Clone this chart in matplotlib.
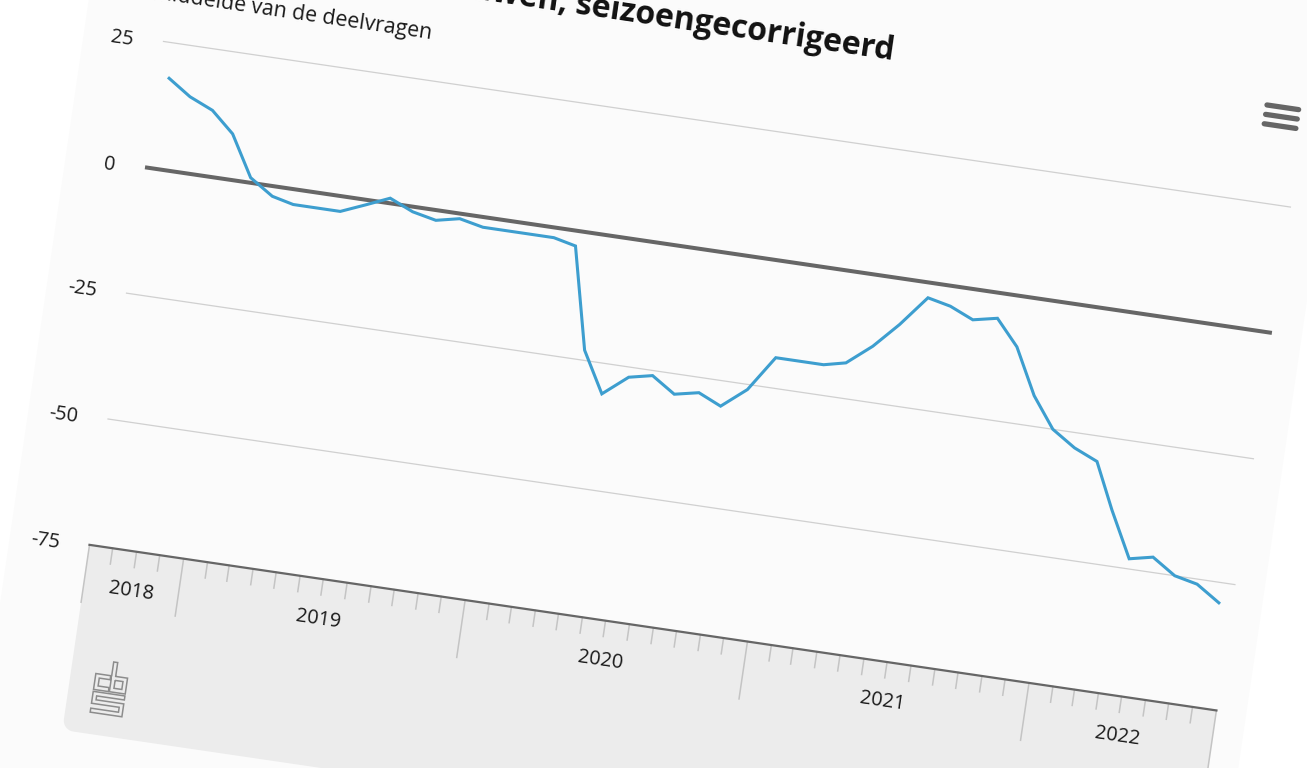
# Consumentenvertrouwen (CBS), screenshot is slightly rotated -> draw everything through a rotated transform
import numpy as np
import pandas as pd
import matplotlib
matplotlib.use("Agg")
import matplotlib.pyplot as plt
import matplotlib.dates as mdates
from matplotlib.transforms import Affine2D, blended_transform_factory
from matplotlib.patches import Polygon

# data: maandcijfers sep 2018 - aug 2022 (midden van de maand)
months = pd.date_range("2018-09-01", "2022-08-01", freq="MS") + pd.Timedelta(days=14)
values = [18, 15, 13, 9, 1, -2, -3, -3, -3, -1, 1, -1,
          -2, -1, -2, -2, -2, -2, -3, -23, -31, -27, -26, -29,
          -28, -30, -26, -19, -19, -19, -18, -14, -9, -3, -4, -6,
          -5, -10, -19, -25, -28, -30, -39, -48, -47, -50, -51, -54]
y_ticks = [25, 0, -25, -50, -75]
years = [2018, 2019, 2020, 2021, 2022]
x_start = pd.Timestamp("2018-09-01")
x_end = pd.Timestamp("2022-09-01")

title = "Consumentenvertrouwen, seizoengecorrigeerd"
subtitle = "Gemiddelde van de deelvragen"

# layout (pixels)
W, H = 1307, 768
ANG = 8.36
PX, PY = 145.0, 768 - 167.3      # left end of the zero line
PLOT_W = 1139.0
UNIT = 127.2 / 25                 # px per index point
AXIS_Y = 75 * UNIT                # distance zero line -> x axis (px, downwards)

fig = plt.figure(figsize=(W / 100, H / 100), dpi=100)
fig.patch.set_facecolor("white")
ax = fig.add_axes([PX / W, (PY - AXIS_Y) / H, PLOT_W / W, 100 * UNIT / H])
ax.set_axis_off()
ax.set_xlim(mdates.date2num(x_start), mdates.date2num(x_end))
ax.set_ylim(-75, 25)

rot = Affine2D().rotate_deg_around(PX, PY, -ANG)
T_data = ax.transData + rot
T_px0 = Affine2D().scale(1, -1).translate(PX, PY)   # x right, y down from pivot
T_px = T_px0 + rot
T_xdata = blended_transform_factory(ax.transData, T_px0) + rot
T_ydata = blended_transform_factory(T_px0, ax.transData) + Affine2D().translate(0, -3) + rot

# card + grey x-axis panel
card = Polygon([(-80, -400), (1169, -400), (1169, 800), (-80, 800)], closed=True,
               transform=T_px, facecolor="#fbfbfb", edgecolor="none", zorder=0,
               clip_on=False)
ax.add_patch(card)
r = 11
arc = [(r - r * np.sin(a), 568.7 - r + r * np.cos(a)) for a in np.linspace(0, np.pi / 2, 10)]
panel_pts = [(0, AXIS_Y), (PLOT_W, AXIS_Y), (PLOT_W, 568.7)] + arc + [(0, 568.7 - r)]
panel = Polygon(panel_pts, closed=True, transform=T_px, facecolor="#ececec",
                edgecolor="none", zorder=1, clip_on=False)
ax.add_patch(panel)

xlo, xhi = mdates.date2num(x_start), mdates.date2num(x_end)

# grid lines
for v in y_ticks:
    if v == 0:
        ax.plot([xlo, xhi], [v, v], color="#666666", lw=2.9, transform=T_data,
                clip_on=False, zorder=3, solid_capstyle="butt")
    elif v == -75:
        ax.plot([xlo, xhi], [v, v], color="#666666", lw=1.6, transform=T_data,
                clip_on=False, zorder=3)
    else:
        ax.plot([xlo, xhi], [v, v], color="#d0d0d0", lw=0.9, transform=T_data,
                clip_on=False, zorder=2)
    ax.text(-30, v, str(v), transform=T_ydata, ha="right", va="center",
            rotation=-ANG, rotation_mode="anchor", fontsize=14.3,
            family="Open Sans", color="#1a1a1a", zorder=5)

# ticks: month minor ticks, year major ticks
month_ticks = pd.date_range(x_start, x_end, freq="MS")
for m in month_ticks:
    major = (m.month == 1) or (m == x_start) or (m == x_end)
    length = 58 if major else 16
    xm = mdates.date2num(m)
    ax.plot([xm, xm], [AXIS_Y, AXIS_Y + length], color="#c4c4c4", lw=1.1,
            transform=T_xdata, clip_on=False, zorder=2)

# year labels, centred in each year's span
for yr in years:
    a = max(pd.Timestamp(f"{yr}-01-01"), x_start)
    b = min(pd.Timestamp(f"{yr + 1}-01-01"), x_end)
    xm = (mdates.date2num(a) + mdates.date2num(b)) / 2
    ax.text(xm, AXIS_Y + 40, str(yr), transform=T_xdata, ha="center", va="center",
            rotation=-ANG, rotation_mode="anchor", fontsize=14.3,
            family="Open Sans", color="#1a1a1a", zorder=5)

# data line
ax.plot(mdates.date2num(months), values, color="#3d9ecf", lw=2.2,
        transform=T_data, clip_on=False, zorder=4, solid_joinstyle="miter")

# title + subtitle
ax.text(-25, -223, title, transform=T_px, ha="left", va="center", rotation=-ANG,
        rotation_mode="anchor", fontsize=23, fontweight="bold",
        family="Open Sans", color="#111111", zorder=5)
ax.text(-45, -174, subtitle, transform=T_px, ha="left", va="center", rotation=-ANG,
        rotation_mode="anchor", fontsize=15.4, family="Open Sans",
        color="#1a1a1a", zorder=5)

# hamburger menu
for dy in (-9.5, 0, 9.5):
    ax.plot([1101, 1133], [-215.3 + dy, -215.3 + dy], color="#666666", lw=3.8,
            solid_capstyle="round", transform=T_px, clip_on=False, zorder=5)

# cbs logo (outlined strokes)
lx, ly = 25, 495
logo = [
    [(13, 15), (2, 15), (2, 27), (13, 27)],
    [(18, 1), (18, 27), (30, 27), (30, 15), (18, 15)],
    [(30, 33), (2, 33), (2, 41), (30, 41), (30, 50), (2, 50)],
]
for path in logo:
    xs = [lx + p[0] for p in path]
    ys = [ly + p[1] for p in path]
    ax.plot(xs, ys, color="#8c8c8c", lw=4.0, transform=T_px, clip_on=False,
            zorder=3, solid_joinstyle="miter", solid_capstyle="projecting")
    ax.plot(xs, ys, color="#ececec", lw=1.8, transform=T_px, clip_on=False,
            zorder=3, solid_joinstyle="miter", solid_capstyle="projecting")

fig.savefig("out.png", dpi=100, facecolor=fig.get_facecolor())
